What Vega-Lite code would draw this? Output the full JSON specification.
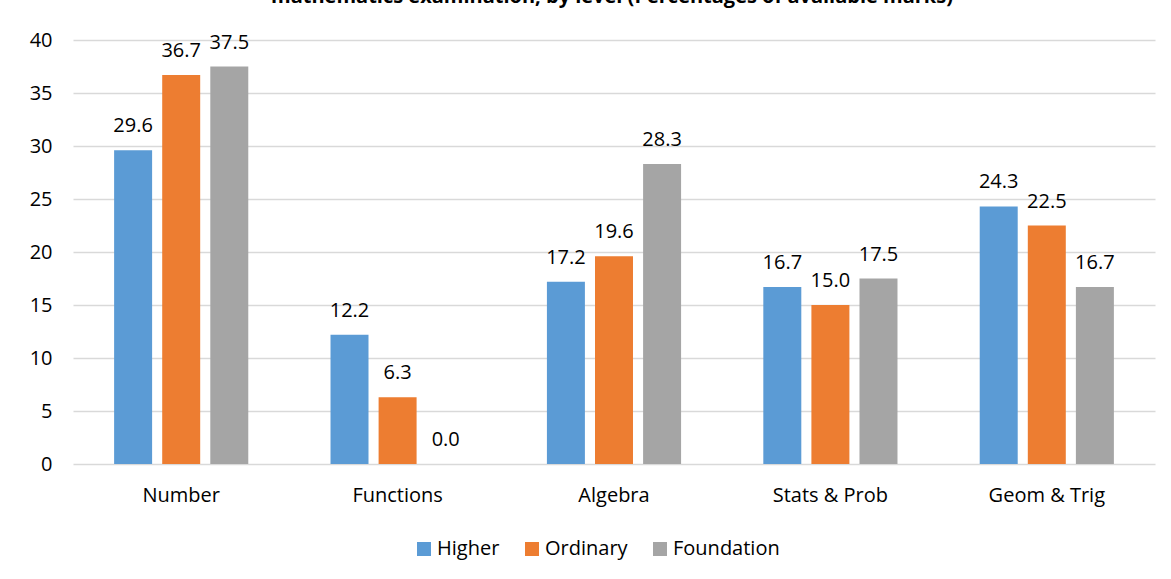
{
  "$schema": "https://vega.github.io/schema/vega-lite/v6.json",
  "width": 1082,
  "height": 424,
  "autosize": {"type": "none"},
  "padding": {"left": 73, "top": 40, "right": 16, "bottom": 115},
  "background": "white",
  "title": {
    "text": "mathematics examination, by level (Percentages of available marks)",
    "font": "Open Sans",
    "fontSize": 20,
    "fontWeight": "bold",
    "color": "#000000",
    "anchor": "middle",
    "baseline": "alphabetic",
    "offset": 7,
    "dx": -2
  },
  "config": {
    "view": {"stroke": null},
    "font": "Open Sans"
  },
  "data": {
    "values": [
      {"topic": "Number", "level": "Higher", "value": 29.6},
      {"topic": "Number", "level": "Ordinary", "value": 36.7},
      {"topic": "Number", "level": "Foundation", "value": 37.5},
      {"topic": "Functions", "level": "Higher", "value": 12.2},
      {"topic": "Functions", "level": "Ordinary", "value": 6.3},
      {"topic": "Functions", "level": "Foundation", "value": 0.0},
      {"topic": "Algebra", "level": "Higher", "value": 17.2},
      {"topic": "Algebra", "level": "Ordinary", "value": 19.6},
      {"topic": "Algebra", "level": "Foundation", "value": 28.3},
      {"topic": "Stats & Prob", "level": "Higher", "value": 16.7},
      {"topic": "Stats & Prob", "level": "Ordinary", "value": 15.0},
      {"topic": "Stats & Prob", "level": "Foundation", "value": 17.5},
      {"topic": "Geom & Trig", "level": "Higher", "value": 24.3},
      {"topic": "Geom & Trig", "level": "Ordinary", "value": 22.5},
      {"topic": "Geom & Trig", "level": "Foundation", "value": 16.7}
    ]
  },
  "encoding": {
    "x": {
      "field": "topic",
      "type": "nominal",
      "sort": ["Number", "Functions", "Algebra", "Stats & Prob", "Geom & Trig"],
      "scale": {"paddingInner": 0.38, "paddingOuter": 0.19},
      "axis": {
        "title": null,
        "labelAngle": 0,
        "labelFont": "Open Sans",
        "labelFontSize": 20,
        "labelColor": "#000000",
        "labelPadding": 21,
        "labelBaseline": "top",
        "ticks": false,
        "tickSize": 0,
        "domain": false,
        "grid": false
      }
    },
    "xOffset": {
      "field": "level",
      "type": "nominal",
      "sort": ["Higher", "Ordinary", "Foundation"],
      "scale": {"paddingInner": 0.21, "paddingOuter": 0}
    },
    "y": {
      "field": "value",
      "type": "quantitative",
      "scale": {"domain": [0, 40], "nice": false},
      "axis": {
        "title": null,
        "values": [0, 5, 10, 15, 20, 25, 30, 35, 40],
        "labelFont": "Open Sans",
        "labelFontSize": 20,
        "labelColor": "#000000",
        "labelPadding": 21,
        "ticks": false,
        "tickSize": 0,
        "domain": false,
        "grid": true,
        "gridColor": "#d9d9d9",
        "gridWidth": 1.3
      }
    }
  },
  "layer": [
    {
      "mark": {"type": "bar"},
      "encoding": {
        "color": {
          "field": "level",
          "type": "nominal",
          "sort": ["Higher", "Ordinary", "Foundation"],
          "scale": {
            "domain": ["Higher", "Ordinary", "Foundation"],
            "range": ["#5b9bd5", "#ed7d31", "#a5a5a5"]
          },
          "legend": {
            "title": null,
            "orient": "none",
            "direction": "horizontal",
            "legendX": 341,
            "legendY": 499,
            "padding": 0,
            "symbolType": "square",
            "symbolSize": 196,
            "symbolStrokeWidth": 0,
            "symbolOpacity": 1,
            "labelFont": "Open Sans",
            "labelFontSize": 20,
            "labelColor": "#000000",
            "labelOffset": 3,
            "columnPadding": 22
          }
        }
      }
    },
    {
      "mark": {
        "type": "text",
        "baseline": "alphabetic",
        "dy": -18,
        "font": "Open Sans",
        "fontSize": 20,
        "color": "#000000"
      },
      "encoding": {
        "text": {"field": "value", "type": "quantitative", "format": ".1f"}
      }
    }
  ]
}
